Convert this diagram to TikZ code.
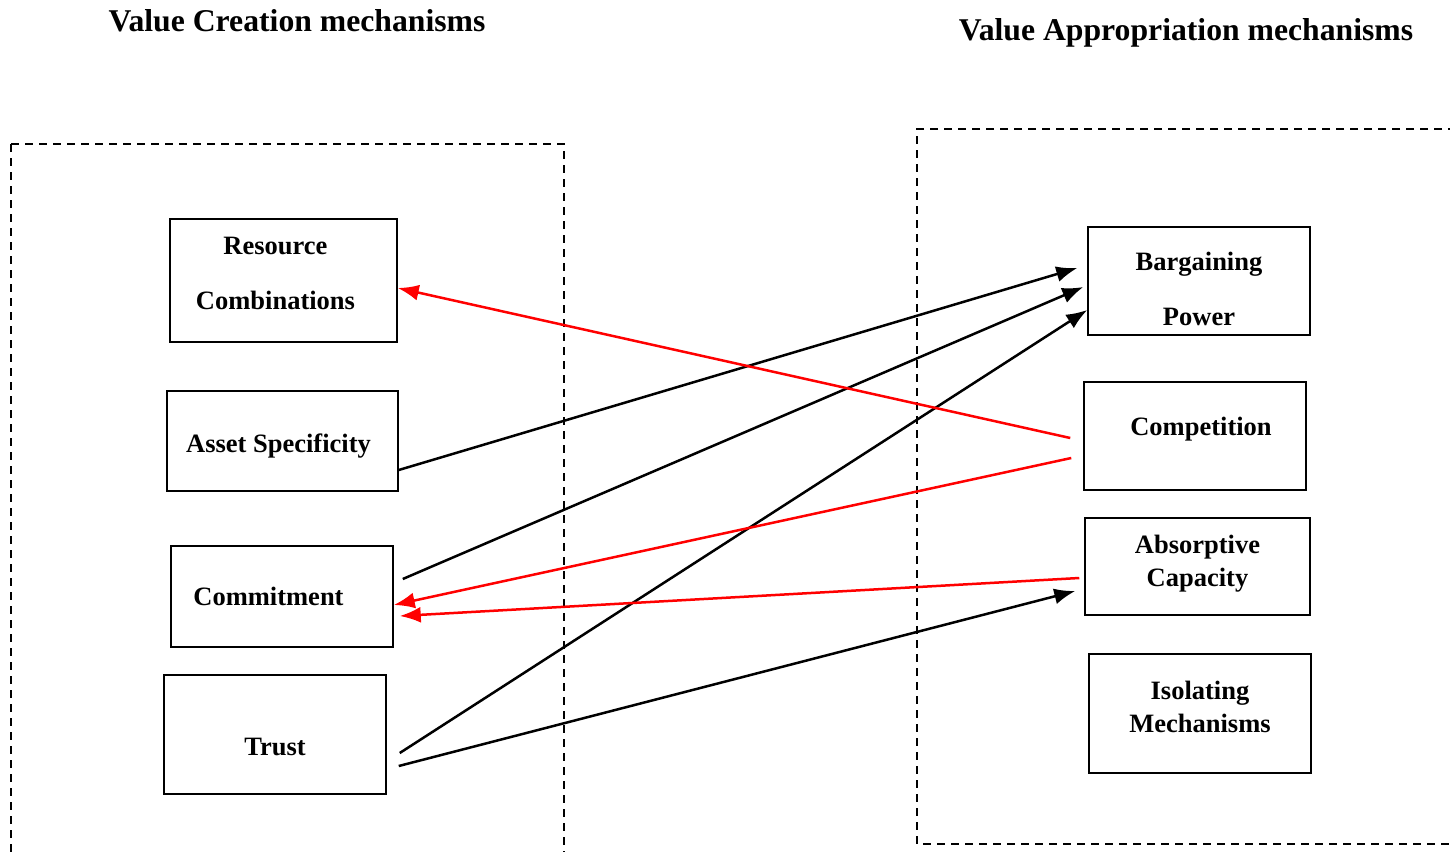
\documentclass[tikz,border=0pt]{standalone}
\usepackage{fontspec}
\setmainfont{Liberation Serif}
\usetikzlibrary{arrows.meta, calc}
\tikzstyle{block} = [draw, fill=white, rectangle, line width=1.5pt, inner sep=0pt, align=center, font=\fontsize{26.5}{33}\selectfont\bfseries]
\tikzstyle{group} = [draw, line width=1.6pt, dash pattern=on 8pt off 6pt]
\tikzstyle{title} = [font=\fontsize{31.7}{36}\selectfont\bfseries]
\tikzstyle{link} = [->, line width=2.5pt]
\newcommand{\up}[1]{\rule{0pt}{#1}}
\newcommand{\down}[1]{\rule[-#1]{0pt}{#1}}

\begin{document}
\begin{tikzpicture}[x=1pt,y=-1pt,>={Latex[length=21pt,width=16pt]}]
  \useasboundingbox (0,0) rectangle (1450,851);
  % dashed groups
  \draw[group] (11,144) -- (564,144) -- (564,870);
  \draw[group] (11,144) -- (11,870);
  \draw[group] (1470,129) -- (917,129) -- (917,844) -- (1470,844);
  \node[title] (vc) at (297,21) {Value Creation mechanisms};
  \node[title] (va) at (1186,33) {Value Appropriation mechanisms};
  % value creation
  \node[block, minimum width=227pt, minimum height=123pt] (rc) at (283.5,280.5) {Resource\hspace*{16pt}\\[22pt]Combinations\hspace*{16pt}\down{14pt}};
  \node[block, minimum width=231pt, minimum height=100pt] (as) at (282.5,441) {\up{28pt}Asset Specificity\hspace*{8pt}};
  \node[block, minimum width=222pt, minimum height=101pt] (cm) at (282,596.5) {Commitment\hspace*{27pt}};
  \node[block, minimum width=222pt, minimum height=119pt] (tr) at (275,734.5) {\up{42pt}Trust};
  % value appropriation
  \node[block, minimum width=222pt, minimum height=108pt] (bp) at (1199,281) {\up{34pt}Bargaining\\[22pt]Power};
  \node[block, minimum width=222pt, minimum height=108pt] (co) at (1195,436) {\hspace*{12pt}Competition\down{20pt}};
  \node[block, minimum width=225pt, minimum height=97pt] (ac) at (1197.5,566.5) {Absorptive\\Capacity\down{12pt}};
  \node[block, minimum width=222pt, minimum height=119pt] (im) at (1200,713.5) {Isolating\\Mechanisms\down{13pt}};
  % links
  \draw[link] ($(as.east)+(0,29)$) -- ($(bp.west)+(-10,-13)$);
  \draw[link] ($(cm.east)+(9,-17.5)$) -- ($(bp.west)+(-4,6)$);
  \draw[link] ($(tr.east)+(13,18.5)$) -- ($(bp.west)+(0,29)$);
  \draw[link] ($(tr.east)+(12,31.5)$) -- ($(ac.west)+(-9,24.5)$);
  \draw[link, red] ($(co.west)+(-13,2)$) -- ($(rc.east)+(0,7.5)$);
  \draw[link, red] ($(co.west)+(-12,22)$) -- ($(cm.east)+(0,8.5)$);
  \draw[link, red] ($(ac.west)+(-5,11.5)$) -- ($(cm.east)+(6,19.5)$);
\end{tikzpicture}
\end{document}
